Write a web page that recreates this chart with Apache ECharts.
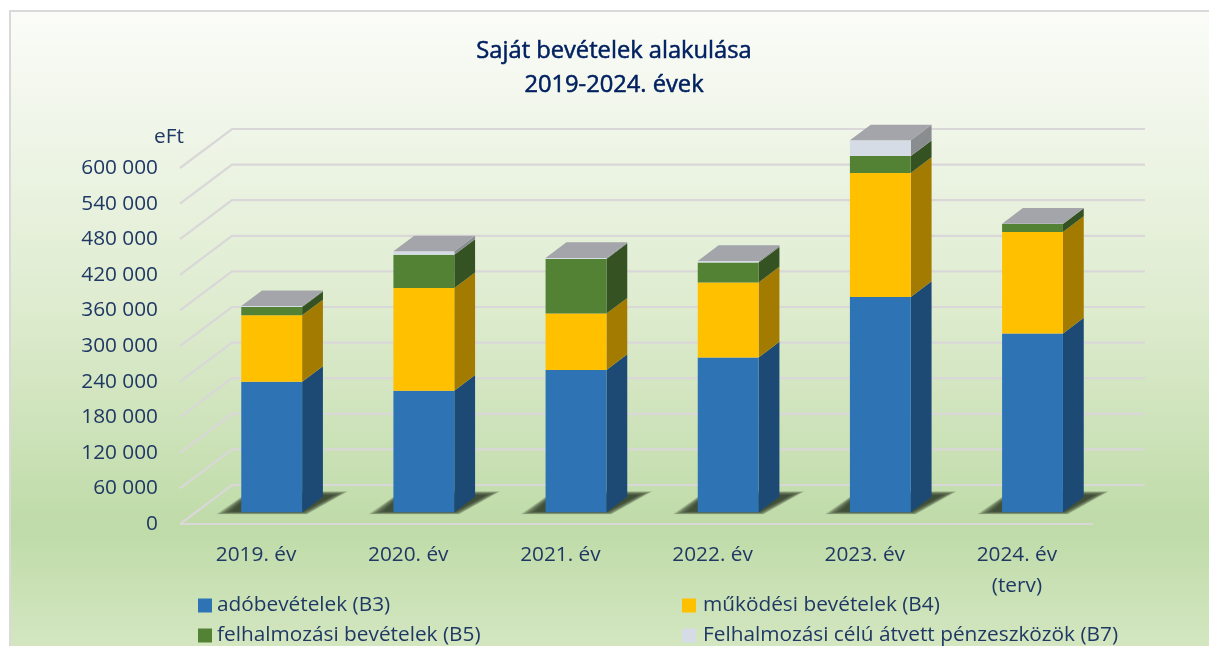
<!DOCTYPE html>
<html>
<head>
<meta charset="utf-8">
<title>Saját bevételek alakulása</title>
<style>
html, body { margin: 0; padding: 0; background: #fff; }
#main { width: 1209px; height: 646px; }
</style>
<script src="https://cdn.jsdelivr.net/npm/echarts@6/dist/echarts.min.js"></script>
</head>
<body>
<div id="main"></div>
<script>
var categories = ['2019. év', '2020. év', '2021. év', '2022. év', '2023. év', '2024. év\n(terv)'];
var adoBevetelek = [220000, 205000, 240000, 261000, 363000, 301500];
var mukodesiBevetelek = [112000, 173000, 95000, 126500, 209000, 171000];
var felhalmozasiBevetelek = [14000, 56000, 92000, 33500, 28500, 13500];
var atvettPenzeszkozok = [1500, 6000, 1700, 2700, 26500, 500];
var yTicks = [0, 60000, 120000, 180000, 240000, 300000, 360000, 420000, 480000, 540000, 600000];

var textColor = '#1f3864';
var fontName = '"Open Sans", "Noto Sans", sans-serif';

// 3d look: how far the back wall sits from the front plane, in px
var wallX = 52, wallY = 39;
var barOffset = 0.3, barDepth = 0.4, barWidth = 0.4;

var myChart = echarts.init(document.getElementById('main'));

function stacked(list) {
    // [index, base, top] rows for every layer
    var totals = categories.map(function () { return 0; });
    return list.map(function (values) {
        return values.map(function (v, i) {
            var row = [i, totals[i], totals[i] + v];
            totals[i] += v;
            return row;
        });
    });
}

var layers = stacked([adoBevetelek, mukodesiBevetelek, felhalmozasiBevetelek, atvettPenzeszkozok]);

function poly(points, fill) {
    return { type: 'polygon', shape: { points: points }, style: { fill: fill } };
}

function barItem(sideColor, frontColor, withTop) {
    return function (params, api) {
        var low = api.coord([api.value(0), api.value(1)]);
        var high = api.coord([api.value(0), api.value(2)]);
        var w = api.size([1, 0])[0] * barWidth;
        var x0 = low[0] + wallX * barOffset - w / 2;
        var x1 = x0 + w;
        var y0 = low[1] - wallY * barOffset;
        var y1 = high[1] - wallY * barOffset;
        var dx = wallX * barDepth, dy = wallY * barDepth;
        var children = [
            poly([[x1, y0], [x1 + dx, y0 - dy], [x1 + dx, y1 - dy], [x1, y1]], sideColor),
            poly([[x0, y0], [x1, y0], [x1, y1], [x0, y1]], frontColor)
        ];
        if (withTop) {
            children.push(poly([[x0, y1], [x1, y1], [x1 + dx, y1 - dy], [x0 + dx, y1 - dy]], '#a3a5ab'));
        }
        return { type: 'group', children: children };
    };
}

function wallItem(params, api) {
    var p = api.coord([0, api.value(1)]);
    var x = params.coordSys.x, w = params.coordSys.width;
    var children = [{
        type: 'polyline',
        shape: { points: [[x, p[1]], [x + wallX, p[1] - wallY], [x + w + wallX, p[1] - wallY]] },
        style: { stroke: '#d9d7d8', lineWidth: 2.2, fill: null }
    }];
    if (api.value(1) === 0) {
        children.push({
            type: 'line',
            shape: { x1: x, y1: p[1], x2: x + w, y2: p[1] },
            style: { stroke: '#d9d7d8', lineWidth: 2.2 }
        });
    }
    return { type: 'group', children: children };
}

// soft floor shadow: nested see-through polygons, outer one first
function shadowItem(params, api) {
    var p = api.coord([api.value(0), 0]);
    var w = api.size([1, 0])[0] * barWidth;
    var x0 = p[0] + wallX * barOffset - w / 2;
    var x1 = x0 + w;
    var y0 = p[1] - wallY * barOffset;
    var children = [];
    for (var k = 0; k <= 10; k++) {
        var t = k / 10;
        children.push({
            type: 'polygon',
            shape: { points: [
                [x0 - 25 + 16 * t, y0 + 2 - 3 * t],
                [x1 + 5 - 5 * t, y0 + 2 - 3 * t],
                [x1 + 46 - 15 * t, y0 - 21 + 4 * t],
                [x0 + 8, y0 - 21 + 4 * t]
            ] },
            style: { fill: '#2f3a2a', opacity: 0.17 }
        });
    }
    return { type: 'group', children: children };
}

function legendItem(name, left, top, pad) {
    return {
        left: left, top: top, padding: 0, itemWidth: 14, itemHeight: 14, icon: 'rect',
        data: [name],
        textStyle: { color: textColor, fontSize: 20.8, fontFamily: fontName, padding: [0, 0, 0, pad] }
    };
}

option = {
    animation: false,
    textStyle: { fontFamily: fontName },
    graphic: [{
        type: 'rect',
        z: -10,
        shape: { x: 10, y: 11, width: 1210, height: 645 },
        style: {
            fill: new echarts.graphic.LinearGradient(0, 0, 0, 1, [
                { offset: 0, color: '#fbfcf9' },
                { offset: 0.45, color: '#dfecd0' },
                { offset: 0.80, color: '#bfdba8' },
                { offset: 0.98, color: '#d3e6c0' }
            ]),
            stroke: '#d9d9d9',
            lineWidth: 2
        }
    }],
    title: {
        text: 'Saját bevételek alakulása\n2019-2024. évek',
        left: 609,
        top: 29,
        textAlign: 'center',
        textStyle: {
            color: '#002060',
            fontFamily: fontName,
            fontSize: 23.7,
            fontWeight: 'normal',
            textBorderColor: '#002060',
            textBorderWidth: 0.5,
            lineHeight: 34
        }
    },
    grid: { left: 180, top: 168, width: 913, height: 356 },
    xAxis: {
        type: 'category',
        data: categories,
        axisLine: { show: false },
        axisTick: { show: false },
        axisLabel: { color: textColor, fontSize: 20.8, margin: 16, lineHeight: 31, fontFamily: fontName, interval: 0 }
    },
    yAxis: {
        type: 'value',
        min: 0,
        max: 600000,
        interval: 60000,
        name: 'eFt',
        nameGap: 20,
        nameTextStyle: { color: textColor, fontSize: 20.8, fontFamily: fontName, align: 'center', padding: [0, 22, 0, 0] },
        axisLine: { show: false },
        axisTick: { show: false },
        splitLine: { show: false },
        axisLabel: {
            color: textColor,
            fontSize: 20.8,
            margin: 22,
            padding: [10, 0, 0, 0],
            fontFamily: fontName,
            formatter: function (v) {
                return String(v).replace(/\B(?=(\d{3})+$)/g, ' ');
            }
        }
    },
    legend: [
        legendItem('adóbevételek (B3)', 198, 595, 0),
        legendItem('felhalmozási bevételek (B5)', 198, 625, 0),
        legendItem('működési bevételek (B4)', 682, 595, 2),
        legendItem('Felhalmozási célú átvett pénzeszközök (B7)', 682, 625, 2)
    ],
    series: [
        {
            type: 'custom', name: 'walls', renderItem: wallItem, silent: true, z: 1,
            encode: { x: 0, y: 1 },
            data: yTicks.map(function (t) { return [0, t]; })
        },
        {
            type: 'custom', name: 'shadows', renderItem: shadowItem, silent: true, z: 2,
            encode: { x: 0, y: 1 },
            data: categories.map(function (c, i) { return [i, 0]; })
        },
        {
            type: 'custom', name: 'adóbevételek (B3)', z: 3,
            renderItem: barItem('#1c4a75', '#2e74b5', false),
            itemStyle: { color: '#2e74b5' },
            encode: { x: 0, y: [1, 2] },
            data: layers[0]
        },
        {
            type: 'custom', name: 'működési bevételek (B4)', z: 3,
            renderItem: barItem('#a37b00', '#ffc000', false),
            itemStyle: { color: '#ffc000' },
            encode: { x: 0, y: [1, 2] },
            data: layers[1]
        },
        {
            type: 'custom', name: 'felhalmozási bevételek (B5)', z: 3,
            renderItem: barItem('#355223', '#548235', false),
            itemStyle: { color: '#548235' },
            encode: { x: 0, y: [1, 2] },
            data: layers[2]
        },
        {
            type: 'custom', name: 'Felhalmozási célú átvett pénzeszközök (B7)', z: 3,
            renderItem: barItem('#8a8d90', '#d6dce5', true),
            itemStyle: { color: '#d6dce5' },
            encode: { x: 0, y: [1, 2] },
            data: layers[3]
        }
    ]
};

myChart.setOption(option);
</script>
</body>
</html>
